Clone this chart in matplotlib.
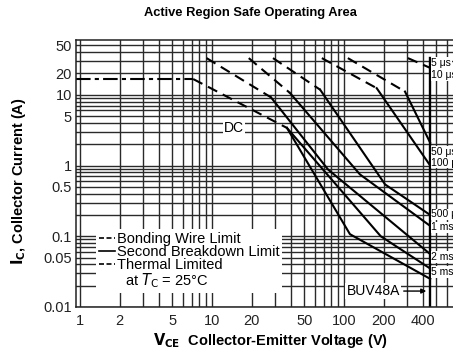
import matplotlib
matplotlib.use('Agg')
import matplotlib.pyplot as plt
from matplotlib.lines import Line2D
from matplotlib.ticker import LogLocator, NullFormatter

plt.rcParams['font.family'] = ['Liberation Sans', 'DejaVu Sans']

# axis ticks
x_ticks = [1, 2, 5, 10, 20, 50, 100, 200, 400]
x_labels = ['1', '2', '5', '10', '20', '50', '100', '200', '400']
y_ticks = [0.01, 0.05, 0.1, 0.5, 1, 5, 10, 20, 50]
y_labels = ['0.01', '0.05', '0.1', '0.5', '1', '5', '10', '20', '50']

V_MAX = 450   # collector-emitter limit (vertical line)
I_PEAK = 33   # pulsed current limit

# DC curve: bonding wire, thermal, second breakdown
dc_bond_v = [0.93, 7.2]
dc_bond_i = [16.7, 16.7]
dc_therm_v = [7.2, 37]
dc_therm_i = [16.7, 3.4]
dc_sb_v = [37, 111, 450]
dc_sb_i = [3.4, 0.107, 0.025]

# pulse curves: thermal part (dashed) then second breakdown (solid)
pulse_names = ['5 ms', '2 ms', '1 ms', '500 \u03bcs', '100 \u03bcs', '50 \u03bcs', '5 \u03bcs']
pulse_therm_v = [None, [9.1, 28], [19, 39], [29, 66], [68, 177], [107, 290], [305, 450]]
pulse_therm_i = [None, [33, 9.2], [33, 10.6], [33, 11.8], [33, 12.4], [33, 11.1], [33, 24]]
pulse_sb_v = [[37, 190, 450], [28, 75.7, 450], [39, 132, 450], [66, 205, 450],
              [177, 450], [290, 450], None]
pulse_sb_i = [[3.4, 0.1, 0.035], [9.2, 0.88, 0.056], [10.6, 0.75, 0.14], [11.8, 0.54, 0.2],
              [12.4, 1.0], [11.1, 2.1], None]

# labels at the right edge (cut off by the page edge, as in the scan)
right_labels = ['5 \u03bcs', '10 \u03bcs', '50 \u03bcs', '100 \u03bcs', '500 \u03bcs', '1 ms', '2 ms', '5 ms']
right_label_i = [28.2, 19.1, 1.57, 1.1, 0.204, 0.134, 0.0506, 0.0311]

fig = plt.figure(figsize=(4.53, 3.55), dpi=100)
ax = fig.add_axes([76 / 453, 48 / 355, 1 - 76 / 453, 267 / 355])
ax.set_xscale('log')
ax.set_yscale('log')
ax.set_xlim(0.933, 670)
ax.set_ylim(0.01, 59.5)

ax.xaxis.set_minor_locator(LogLocator(base=10, subs=range(1, 10), numticks=20))
ax.yaxis.set_minor_locator(LogLocator(base=10, subs=range(1, 10), numticks=20))
ax.xaxis.set_minor_formatter(NullFormatter())
ax.yaxis.set_minor_formatter(NullFormatter())
ax.set_xticks(x_ticks)
ax.set_xticklabels(x_labels)
ax.set_yticks(y_ticks)
ax.set_yticklabels(y_labels)
ax.tick_params(which='both', length=0, labelsize=10.5, colors='#222')
ax.tick_params(axis='x', pad=5)
ax.tick_params(axis='y', pad=3)
ax.grid(True, which='both', color='#2a2a2a', lw=1.0)
ax.spines['right'].set_visible(False)
for s in ['left', 'bottom', 'top']:
    ax.spines[s].set_color('#222')
    ax.spines[s].set_linewidth(1.1)

lw = 1.5
ax.plot(dc_bond_v, dc_bond_i, color='k', lw=lw, dashes=(7, 2, 2, 2))
ax.plot(dc_therm_v, dc_therm_i, color='k', lw=lw, dashes=(5, 3))
ax.plot(dc_sb_v, dc_sb_i, color='k', lw=lw)

for tv, ti, sv, si in zip(pulse_therm_v, pulse_therm_i, pulse_sb_v, pulse_sb_i):
    if tv is not None:
        ax.plot(tv, ti, color='k', lw=lw, dashes=(5, 3))
    if sv is not None:
        ax.plot(sv, si, color='k', lw=lw)

ax.plot([V_MAX, V_MAX], [I_PEAK, 0.01], color='k', lw=1.7)

for lab, iv in zip(right_labels, right_label_i):
    ax.text(V_MAX * 1.02, iv, lab, fontsize=7.5, ha='left', va='center', clip_on=False,
            bbox=dict(facecolor='white', edgecolor='none', pad=0.5))

ax.text(14.7, 3.43, 'DC', fontsize=10, ha='center', va='center',
        bbox=dict(facecolor='white', edgecolor='none', pad=0.8))

ax.annotate('BUV48A', xy=(V_MAX * 0.98, 0.0168), xytext=(265, 0.0168),
            fontsize=10, ha='right', va='center',
            bbox=dict(facecolor='white', edgecolor='none', pad=0.8),
            arrowprops=dict(arrowstyle='-|>', color='k', lw=1.0, mutation_scale=7))

handles = [Line2D([], [], color='k', lw=1.2, dashes=(3, 1.5)),
           Line2D([], [], color='k', lw=1.2),
           Line2D([], [], color='k', lw=1.2, dashes=(3, 1.5)),
           Line2D([], [], color='none')]
labels = ['Bonding Wire Limit', 'Second Breakdown Limit', 'Thermal Limited',
          '  at $T_\\mathrm{C}$ = 25\u00b0C']
leg = ax.legend(handles, labels, loc='lower left', bbox_to_anchor=(0.035, 0.025),
                fontsize=10.5, handlelength=1.1, handletextpad=0.1, labelspacing=-0.05,
                borderpad=0.2, frameon=True, fancybox=False)
leg.get_frame().set_facecolor('white')
leg.get_frame().set_edgecolor('none')
leg.get_frame().set_alpha(1)

fig.text(0.552, 0.963, 'Active Region Safe Operating Area', fontsize=9.3,
         fontweight='bold', ha='center', va='center')
fig.text(0.04, 0.49, '$\\mathbf{I_C}$, Collector Current (A)', fontsize=10.5,
         fontweight='bold', rotation=90, ha='center', va='center')
fig.text(0.597, 0.042, '$\\mathbf{V_{CE}}$  Collector-Emitter Voltage (V)', fontsize=10.5,
         fontweight='bold', ha='center', va='center')

fig.savefig('out.png', dpi=100)
